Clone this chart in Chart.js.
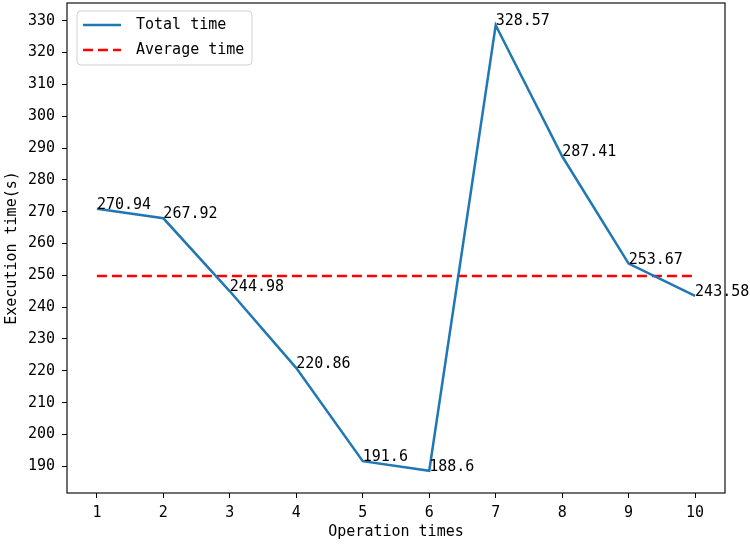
<!DOCTYPE html>
<html>
<head>
<meta charset="utf-8">
<script src="https://cdn.jsdelivr.net/npm/chart.js@4/dist/chart.umd.min.js"></script>
<style>
  html, body { margin: 0; padding: 0; background: #fff; }
  #wrap { width: 750px; height: 545px; }
</style>
</head>
<body>
<div id="wrap"><canvas id="lineChart"></canvas></div>
<script>
// values
const operations = [1, 2, 3, 4, 5, 6, 7, 8, 9, 10];
const totalTimes = [270.94, 267.92, 244.98, 220.86, 191.6, 188.6, 328.57, 287.41, 253.67, 243.58];
const averageTimes = [249.81, 249.81, 249.81, 249.81, 249.81, 249.81, 249.81, 249.81, 249.81, 249.81];
const xTicks = [1, 2, 3, 4, 5, 6, 7, 8, 9, 10];
const yTicks = [190, 200, 210, 220, 230, 240, 250, 260, 270, 280, 290, 300, 310, 320, 330];

const FONT = '"DejaVu Sans Mono", "Liberation Mono", monospace';

// frame, point labels and legend drawn on top
const extras = {
    id: 'extras',
    afterDatasetsDraw: (chart) => {
        const ctx = chart.ctx;
        const a = chart.chartArea;
        const xs = chart.scales.x;
        const ys = chart.scales.y;
        ctx.save();

        // box around plot
        ctx.strokeStyle = '#111';
        ctx.lineWidth = 1.2;
        ctx.strokeRect(a.left, a.top, a.right - a.left, a.bottom - a.top);

        // value labels
        ctx.fillStyle = '#000';
        ctx.font = '15px ' + FONT;
        ctx.textAlign = 'left';
        ctx.textBaseline = 'alphabetic';
        operations.forEach((op, i) => {
            ctx.fillText(String(totalTimes[i]), xs.getPixelForValue(op), ys.getPixelForValue(totalTimes[i]));
        });

        // legend
        const lx = a.left + 10, ly = a.top + 8, lw = 175, lh = 54;
        ctx.beginPath();
        ctx.roundRect(lx, ly, lw, lh, 4);
        ctx.fillStyle = 'rgba(255,255,255,0.8)';
        ctx.fill();
        ctx.strokeStyle = '#d0d0d0';
        ctx.lineWidth = 1;
        ctx.stroke();

        chart.data.datasets.forEach((ds, i) => {
            const y = ly + 14 + i * 25;
            ctx.beginPath();
            ctx.setLineDash(ds.borderDash || []);
            ctx.strokeStyle = ds.borderColor;
            ctx.lineWidth = ds.borderWidth;
            ctx.moveTo(lx + 6, y);
            ctx.lineTo(lx + 44, y);
            ctx.stroke();
            ctx.setLineDash([]);
            ctx.fillStyle = '#000';
            ctx.textBaseline = 'middle';
            ctx.fillText(ds.label, lx + 59, y);
        });
        ctx.restore();
    }
};

const lineChart = document.getElementById('lineChart').getContext('2d');
var lineChartConfig = new Chart(lineChart, {
    type: 'line',
    data: {
        datasets: [{
            label: 'Total time',
            data: operations.map((op, i) => ({ x: op, y: totalTimes[i] })),
            borderColor: '#1f77b4',
            borderWidth: 2.5,
            pointRadius: 0,
            fill: false,
            tension: 0
        }, {
            label: 'Average time',
            data: operations.map((op, i) => ({ x: op, y: averageTimes[i] })),
            borderColor: '#ff0000',
            borderWidth: 2.5,
            borderDash: [10, 5],
            pointRadius: 0,
            fill: false
        }]
    },
    options: {
        responsive: true,
        maintainAspectRatio: false,
        animation: false,
        layout: { padding: { left: 0, right: 25, top: 3, bottom: 0 } },
        plugins: {
            legend: { display: false },
            tooltip: { enabled: false }
        },
        scales: {
            x: {
                type: 'linear',
                min: 0.55,
                max: 10.45,
                afterBuildTicks: (scale) => { scale.ticks = xTicks.map(v => ({ value: v })); },
                afterFit: (scale) => {
                    scale.height = 52;
                    scale.paddingLeft = 0;
                    scale.paddingRight = 0;
                },
                grid: { drawOnChartArea: false, drawTicks: true, tickLength: 5, color: '#000' },
                border: { display: false },
                ticks: {
                    color: '#000',
                    font: { family: FONT, size: 15 },
                    padding: 6,
                    maxRotation: 0,
                    autoSkip: false
                },
                title: {
                    display: true,
                    text: 'Operation times',
                    color: '#000',
                    font: { family: FONT, size: 15 },
                    padding: { top: 0, bottom: 4 }
                }
            },
            y: {
                min: 181.6,
                max: 335.57,
                afterBuildTicks: (scale) => { scale.ticks = yTicks.map(v => ({ value: v })); },
                afterFit: (scale) => {
                    scale.width = 67;
                    scale.paddingTop = 0;
                    scale.paddingBottom = 0;
                },
                grid: { drawOnChartArea: false, drawTicks: true, tickLength: 5, color: '#000' },
                border: { display: false },
                ticks: {
                    color: '#000',
                    font: { family: FONT, size: 15 },
                    padding: 7
                },
                title: {
                    display: true,
                    text: 'Execution time(s)',
                    color: '#000',
                    font: { family: FONT, size: 15 },
                    padding: { top: 3, bottom: 0 }
                }
            }
        }
    },
    plugins: [extras]
});
</script>
</body>
</html>
